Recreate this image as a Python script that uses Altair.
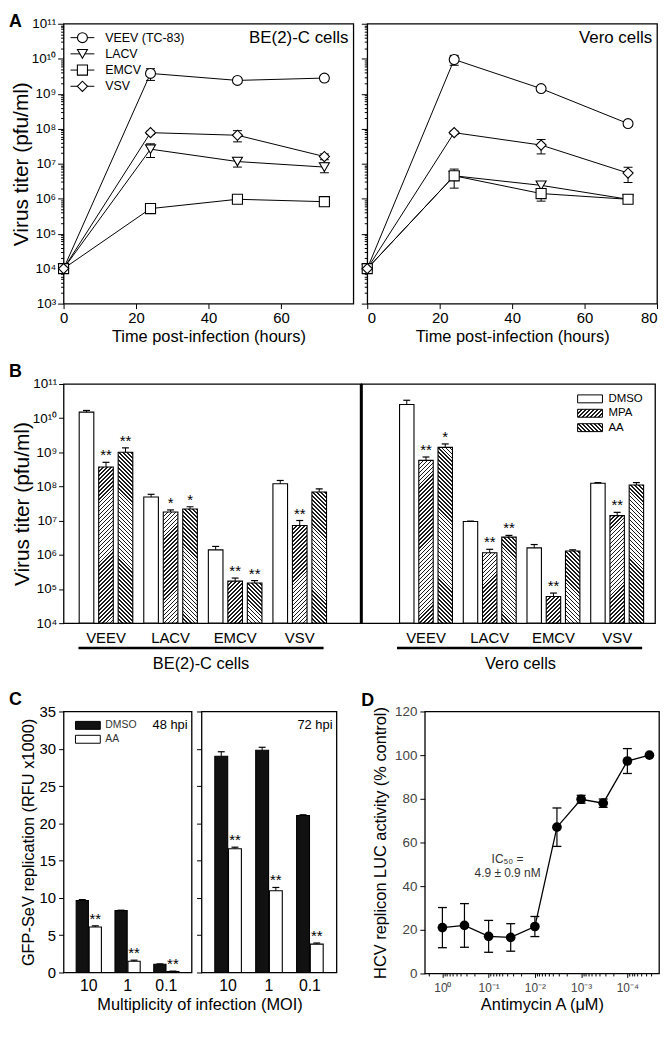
import math
import altair as alt

FONT = "Liberation Sans"

# ---------------- Panel A: virus growth curves ----------------
hours = [0, 24, 48, 72]
a_viruses = ["VEEV (TC-83)", "LACV", "EMCV", "VSV"]

be2c_veev = [1e4, 3.8e9, 2.4e9, 2.8e9]
be2c_lacv = [1e4, 2.6e7, 1.15e7, 8.0e6]
be2c_emcv = [1e4, 5.2e5, 9.6e5, 8.2e5]
be2c_vsv = [1e4, 7.7e7, 6.5e7, 1.6e7]
be2c_veev_err = [0, 1.4e9, 2.0e8, 5.0e8]
be2c_lacv_err = [0, 1.1e7, 3.5e6, 2.5e6]
be2c_emcv_err = [0, 5.0e4, 8.0e4, 2.0e5]
be2c_vsv_err = [0, 8.0e6, 2.3e7, 3.0e6]

vero_veev = [1e4, 9.5e9, 1.4e9, 1.4e8]
vero_lacv = [1e4, 4.5e6, 2.4e6, 9.6e5]
vero_emcv = [1e4, 4.5e6, 1.4e6, 9.6e5]
vero_vsv = [1e4, 7.7e7, 3.4e7, 5.4e6]
vero_veev_err = [0, 3.0e9, 2.0e8, 2.0e7]
vero_lacv_err = [0, 5.0e5, 5.0e5, 1.0e5]
vero_emcv_err = [0, 2.5e6, 5.5e5, 1.5e5]
vero_vsv_err = [0, 8.0e6, 1.5e7, 2.5e6]

# ---------------- Panel B: drug treatment, virus titers ----------------
b_viruses = ["VEEV", "LACV", "EMCV", "VSV"]
b_treats = ["DMSO", "MPA", "AA"]
be2c_dmso = [1.5e10, 4.9e7, 1.4e6, 1.2e8]
be2c_dmso_err = [1.8e9, 1.0e7, 3.6e5, 3.0e7]
be2c_mpa = [3.7e8, 1.8e7, 1.7e5, 7.2e6]
be2c_mpa_err = [1.4e8, 2.6e6, 3.9e4, 2.9e6]
be2c_aa = [1.0e9, 2.2e7, 1.5e5, 6.9e7]
be2c_aa_err = [3.5e8, 3.5e6, 2.6e4, 1.6e7]
be2c_dmso_sig = ["", "", "", ""]
be2c_mpa_sig = ["**", "*", "**", "**"]
be2c_aa_sig = ["**", "*", "**", ""]

vero_dmso = [2.5e10, 9.4e6, 1.6e6, 1.25e8]
vero_dmso_err = [8.4e9, 3.0e5, 4.0e5, 5.0e6]
vero_mpa = [5.8e8, 1.15e6, 6.0e4, 1.4e7]
vero_mpa_err = [1.5e8, 3.0e5, 1.6e4, 3.5e6]
vero_aa = [1.4e9, 3.3e6, 1.3e6, 1.1e8]
vero_aa_err = [3.6e8, 4.0e5, 1.0e5, 2.0e7]
vero_dmso_sig = ["", "", "", ""]
vero_mpa_sig = ["**", "**", "**", "**"]
vero_aa_sig = ["*", "**", "", ""]

# ---------------- Panel C: GFP-SeV replication ----------------
c_moi = ["10", "1", "0.1"]
c_treats = ["DMSO", "AA"]
c48_dmso = [9.65, 8.3, 1.1]
c48_dmso_err = [0.12, 0.05, 0.05]
c48_aa = [6.1, 1.5, 0.13]
c48_aa_err = [0.15, 0.15, 0.05]
c72_dmso = [29.0, 29.8, 21.05]
c72_dmso_err = [0.6, 0.4, 0.1]
c72_aa = [16.6, 10.95, 3.8]
c72_aa_err = [0.2, 0.45, 0.15]
c_aa_sig = ["**", "**", "**"]

# ---------------- Panel D: HCV replicon ----------------
d_conc = [1.0, 1 / 3, 0.1, 1 / 30, 0.01, 1 / 300, 1e-3, 1 / 3000, 1e-4, 1 / 30000]
d_val = [21.0, 22.0, 17.0, 16.5, 21.5, 67.0, 79.8, 78.0, 97.3, 100.0]
d_err = [9.2, 10.0, 7.3, 6.3, 4.6, 8.8, 1.8, 1.9, 5.7, 0.0]
ann_x = [0.039, 0.039]
ann_y = [52.6, 46.2]
ann_text = ["IC\u2085\u2080 =", "4.9 \u00b1 0.9 nM"]

# ---------------- helpers ----------------
SUP = ["\u2070", "\u00b9", "\u00b2", "\u00b3", "\u2074", "\u2075", "\u2076",
       "\u2077", "\u2078", "\u2079", "\u00b9\u2070", "\u00b9\u00b9"]
SUP_JS = "[" + ",".join("'%s'" % s for s in SUP) + "]"
POW_LABEL = "'10' + " + SUP_JS + "[round(log(datum.value) / LN10)]"
NEG_POW_LABEL = ("'10' + (datum.value < 0.5 ? '\u207b' : '') + " + SUP_JS
                 + "[abs(round(log(datum.value) / LN10))]")

A_DECADES = [10.0 ** n for n in range(3, 12)]
A_MINOR = [k * 10.0 ** n for n in range(3, 11) for k in range(2, 10)]
B_DECADES = [10.0 ** n for n in range(4, 12)]
D_MAJOR = [1.0, 0.1, 0.01, 0.001, 0.0001]
D_LO, D_HI = 2.07e-5, 2.4
D_MINOR = [k * 10.0 ** n for n in range(-5, 1) for k in range(2, 10)
           if D_LO <= k * 10.0 ** n <= D_HI]

ONE = alt.Data(values=[{"o": 1}])


def letter(t, dx, dy):
    return alt.TitleParams(text=t, anchor="start", frame="group", orient="top", offset=0,
                           dx=dx, dy=dy, baseline="alphabetic", fontSize=18,
                           fontWeight="bold", font=FONT, color="black")


def hatch(w, h, kind, period=4.0, line=1.5, ink="#1c1c1c"):
    """Diagonal stripe fill built as a linear gradient in the bar's own box."""
    S = w + h
    k = S / (w * w + h * h)
    a, b = k * w, k * h
    if kind == "/":
        x1, y1, x2, y2 = 0.0, 0.0, a, b
    else:
        x1, y1, x2, y2 = 0.0, 1.0, a, 1.0 - b
    stops = []
    s = 0.0
    while s < S - 1e-9:
        e1 = min(s + line, S)
        e2 = min(s + period, S)
        stops.append({"offset": round(s / S, 5), "color": ink})
        stops.append({"offset": round(e1 / S, 5), "color": ink})
        stops.append({"offset": round(e1 / S, 5), "color": "white"})
        stops.append({"offset": round(e2 / S, 5), "color": "white"})
        s += period
    return {"gradient": "linear", "x1": x1, "y1": round(y1, 5), "x2": round(x2, 5),
            "y2": round(y2, 5), "stops": stops}


# ---------------- Panel A ----------------
HA = 282
A_SHAPES = ["circle", "triangle-down", "square", "diamond"]
A_SIZES = [100, 105, 80, 140]


def panel_a(series, errs, W, first, cell_label, title=None):
    recs = []
    for name, vals, es in zip(a_viruses, series, errs):
        for t, v, e in zip(hours, vals, es):
            recs.append({"virus": name, "t": t, "v": v, "lo": v - e, "hi": v + e, "e": e})
    base = alt.Chart(alt.Data(values=recs))
    xsc = alt.Scale(domain=[0, 80], nice=False, zero=False)
    ysc = alt.Scale(type="log", domain=[1e3, 1e11], nice=False)
    xaxis = alt.Axis(values=[0, 20, 40, 60] if first else [0, 20, 40, 60, 80],
                     title="Time post-infection (hours)", labelFontSize=15, titleFontSize=16.5,
                     tickSize=5, labelPadding=2, titlePadding=3, labelFlush=not first,
                     orient="bottom")
    if first:
        yaxis = alt.Axis(values=A_DECADES, labelExpr=POW_LABEL, title="Virus titer (pfu/ml)",
                         labelFontSize=13.5, titleFontSize=21, tickSize=6, labelPadding=2,
                         titlePadding=0, orient="left")
    else:
        yaxis = alt.Axis(values=A_DECADES, labels=False, title=None, tickSize=6, orient="left")
    minor_axis = alt.Axis(values=A_MINOR, labels=False, title=None, tickSize=3, orient="left")
    shape = alt.Shape("virus:N", scale=alt.Scale(domain=a_viruses, range=A_SHAPES), legend=None)
    size = alt.Size("virus:N", scale=alt.Scale(domain=a_viruses, range=A_SIZES), legend=None)
    X = alt.X("t:Q", scale=xsc, axis=xaxis)
    Xn = alt.X("t:Q", scale=xsc, axis=None)

    lines = base.mark_line(color="black", strokeWidth=1).encode(
        x=X, y=alt.Y("v:Q", scale=ysc, axis=yaxis), detail="virus:N")
    eb = base.transform_filter("datum.e > 0")
    erule = eb.mark_rule(color="black", strokeWidth=1).encode(
        x=Xn, y=alt.Y("lo:Q", scale=ysc, axis=None), y2="hi:Q")
    cap_hi = eb.mark_tick(color="black", orient="horizontal", size=9, thickness=1, opacity=1).encode(
        x=Xn, y=alt.Y("hi:Q", scale=ysc, axis=None))
    cap_lo = eb.mark_tick(color="black", orient="horizontal", size=9, thickness=1, opacity=1).encode(
        x=Xn, y=alt.Y("lo:Q", scale=ysc, axis=None))
    pts = base.mark_point(filled=True, fill="white", stroke="black", strokeWidth=1.1, opacity=1).encode(
        x=Xn, y=alt.Y("v:Q", scale=ysc, axis=None), shape=shape, size=size)
    minor = base.mark_point(opacity=0).encode(
        x=Xn, y=alt.Y("v:Q", scale=ysc, axis=minor_axis))
    main = alt.layer(lines, erule, cap_hi, cap_lo, pts, minor).resolve_axis(
        x="independent", y="independent")

    lab = alt.Chart(alt.Data(values=[{"label": cell_label}])).mark_text(
        align="right", baseline="middle", fontSize=17, font=FONT, color="black").encode(
        x=alt.value(W - 5), y=alt.value(14), text="label:N")
    layers = [main, lab]
    if first:
        ld = alt.Data(values=[{"virus": v} for v in a_viruses])
        ly = alt.Y("virus:N", scale=alt.Scale(type="point", domain=a_viruses, range=[14, 63], padding=0),
                   axis=None)
        lrule = alt.Chart(ld).mark_rule(color="black", strokeWidth=1).encode(
            x=alt.value(7), x2=alt.value(31), y=ly)
        lpts = alt.Chart(ld).mark_point(filled=True, fill="white", stroke="black", strokeWidth=1.1,
                                        opacity=1).encode(x=alt.value(19), y=ly, shape=shape, size=size)
        ltxt = alt.Chart(ld).mark_text(align="left", baseline="middle", fontSize=12.5, font=FONT,
                                       color="black").encode(x=alt.value(42), y=ly, text="virus:N")
        layers.append(alt.layer(lrule, lpts, ltxt))
    ch = alt.layer(*layers).resolve_scale(y="independent")
    props = dict(width=W, height=HA)
    if title is not None:
        props["title"] = title
    return ch.properties(**props)


# ---------------- Panel B ----------------
HB = 241
PI_G, PO_G, PI_O = 0.17, 0.39, 0.25


def panel_b(cols, W, align, first, cell_label, title_x, uline, title=None, legend=False):
    step = W / (len(b_viruses) - PI_G + 2 * PO_G)
    wbar = step * (1 - PI_G) / (len(b_treats) - PI_O) * (1 - PI_O)
    recs = []
    for i, vir in enumerate(b_viruses):
        for tr, vals, errs, sig in cols:
            v = vals[i]
            h = (math.log10(v) - 4) / 7 * HB
            fill = "white" if tr == "DMSO" else hatch(wbar, h, "/" if tr == "MPA" else "\\")
            recs.append({"virus": vir, "treat": tr, "v": v, "hi": v + errs[i], "sig": sig[i],
                         "fill": fill})
    base = alt.Chart(alt.Data(values=recs))
    xsc = alt.Scale(type="band", domain=b_viruses, paddingInner=PI_G, paddingOuter=PO_G, align=align)
    xosc = alt.Scale(type="band", domain=b_treats, paddingInner=PI_O, paddingOuter=0)
    ysc = alt.Scale(type="log", domain=[1e4, 1e11], nice=False)
    xaxis = alt.Axis(title=cell_label, labelAngle=0, ticks=False, tickSize=0, labelFontSize=15,
                     labelPadding=7, titleFontSize=16.5, titlePadding=11, titleX=title_x,
                     orient="bottom")
    if first:
        yaxis = alt.Axis(values=B_DECADES, labelExpr=POW_LABEL, title="Virus titer (pfu/ml)",
                         labelFontSize=13.5, titleFontSize=21, tickSize=5, labelPadding=2,
                         titlePadding=0, orient="left")
    else:
        yaxis = None
    X = alt.X("virus:N", scale=xsc, axis=xaxis)
    Xn = alt.X("virus:N", scale=xsc, axis=None)
    XO = alt.XOffset("treat:N", scale=xosc)

    bars = base.mark_bar(stroke="black", strokeWidth=1.1, opacity=1).encode(
        x=X, xOffset=XO, y=alt.Y("v:Q", scale=ysc, axis=yaxis, stack=None),
        fill=alt.Fill("fill:N", scale=None))
    err = base.mark_rule(color="black", strokeWidth=1).encode(
        x=Xn, xOffset=XO, y=alt.Y("v:Q", scale=ysc, axis=None), y2="hi:Q")
    cap = base.mark_tick(color="black", size=7, thickness=1.2, opacity=1).encode(
        x=Xn, xOffset=XO, y=alt.Y("hi:Q", scale=ysc, axis=None))
    stars = base.mark_text(baseline="bottom", dy=1, fontSize=15, font=FONT, color="black").encode(
        x=Xn, xOffset=XO, y=alt.Y("hi:Q", scale=ysc, axis=None), text="sig:N")
    ul = alt.Chart(ONE).mark_rule(color="black", strokeWidth=2.5).encode(
        x=alt.value(uline[0]), x2=alt.value(uline[1]), y=alt.value(HB + 25))
    parts = [bars, err, cap, stars, ul]
    if first:
        div = alt.Chart(ONE).mark_rule(color="black", strokeWidth=3).encode(
            x=alt.value(W), y=alt.value(0), y2=alt.value(HB))
        parts.append(div)
    main = alt.layer(*parts).resolve_axis(x="independent", y="independent")
    if legend:
        lrec = [{"treat": t, "fill": "white" if t == "DMSO" else hatch(25, 8, "/" if t == "MPA" else "\\")}
                for t in b_treats]
        ld = alt.Data(values=lrec)
        ly = alt.Y("treat:N", scale=alt.Scale(type="band", domain=b_treats, range=[11, 48],
                                               paddingInner=0.45, paddingOuter=0), axis=None)
        lrect = alt.Chart(ld).mark_rect(stroke="black", strokeWidth=1, opacity=1).encode(
            x=alt.value(218), x2=alt.value(243), y=ly, fill=alt.Fill("fill:N", scale=None))
        ltxt = alt.Chart(ld).mark_text(align="left", baseline="middle", fontSize=11.5, font=FONT,
                                       color="black").encode(x=alt.value(249), y=ly, text="treat:N")
        ch = alt.layer(main, alt.layer(lrect, ltxt)).resolve_scale(y="independent")
    else:
        ch = main
    props = dict(width=W, height=HB)
    if title is not None:
        props["title"] = title
    return ch.properties(**props)


# ---------------- Panel C ----------------
HC = 263
C_FILLS = {"DMSO": "#111111", "AA": "white"}


def panel_c(dmso, dmso_err, aa, aa_err, W, first, hpi, title=None):
    recs = []
    for i, m in enumerate(c_moi):
        recs.append({"moi": m, "treat": "DMSO", "v": dmso[i], "hi": dmso[i] + dmso_err[i], "sig": "",
                     "fill": C_FILLS["DMSO"]})
        recs.append({"moi": m, "treat": "AA", "v": aa[i], "hi": aa[i] + aa_err[i], "sig": c_aa_sig[i],
                     "fill": C_FILLS["AA"]})
    base = alt.Chart(alt.Data(values=recs))
    xsc = alt.Scale(type="band", domain=c_moi, paddingInner=0.35, paddingOuter=0.325)
    xosc = alt.Scale(type="band", domain=c_treats, paddingInner=0.06, paddingOuter=0)
    ysc = alt.Scale(domain=[0, 35], nice=False)
    if first:
        xaxis = alt.Axis(title="Multiplicity of infection (MOI)", labelAngle=0, ticks=False, tickSize=0,
                         labelFontSize=16, labelPadding=5, titleFontSize=16.5, titlePadding=3,
                         titleX=137, orient="bottom")
        yaxis = alt.Axis(values=list(range(0, 36, 5)), title="GFP-SeV replication (RFU x1000)",
                         labelFontSize=15, titleFontSize=16.5, tickSize=5, labelPadding=3,
                         titlePadding=3, orient="left")
    else:
        xaxis = alt.Axis(title=None, labelAngle=0, ticks=False, tickSize=0, labelFontSize=16,
                         labelPadding=5, orient="bottom")
        yaxis = alt.Axis(values=list(range(0, 36, 5)), labels=False, title=None, tickSize=5,
                         orient="left")
    X = alt.X("moi:N", scale=xsc, axis=xaxis)
    Xn = alt.X("moi:N", scale=xsc, axis=None)
    XO = alt.XOffset("treat:N", scale=xosc)
    bars = base.mark_bar(stroke="black", strokeWidth=1.1, opacity=1).encode(
        x=X, xOffset=XO, y=alt.Y("v:Q", scale=ysc, axis=yaxis, stack=None),
        fill=alt.Fill("fill:N", scale=None))
    err = base.mark_rule(color="black", strokeWidth=1).encode(
        x=Xn, xOffset=XO, y=alt.Y("v:Q", scale=ysc, axis=None), y2="hi:Q")
    cap = base.mark_tick(color="black", size=7, thickness=1.2, opacity=1).encode(
        x=Xn, xOffset=XO, y=alt.Y("hi:Q", scale=ysc, axis=None))
    stars = base.mark_text(baseline="bottom", dy=1, fontSize=15, font=FONT, color="black").encode(
        x=Xn, xOffset=XO, y=alt.Y("hi:Q", scale=ysc, axis=None), text="sig:N")
    lab = alt.Chart(alt.Data(values=[{"label": hpi}])).mark_text(
        align="right", baseline="middle", fontSize=13, font=FONT, color="black").encode(
        x=alt.value(W - 4), y=alt.value(14), text="label:N")
    main = alt.layer(bars, err, cap, stars, lab).resolve_axis(x="independent", y="independent")
    if first:
        ld = alt.Data(values=[{"treat": t, "fill": C_FILLS[t]} for t in c_treats])
        ly = alt.Y("treat:N", scale=alt.Scale(type="band", domain=c_treats, range=[10, 32],
                                               paddingInner=0.43, paddingOuter=0), axis=None)
        lrect = alt.Chart(ld).mark_rect(stroke="black", strokeWidth=1, opacity=1).encode(
            x=alt.value(12), x2=alt.value(37), y=ly, fill=alt.Fill("fill:N", scale=None))
        ltxt = alt.Chart(ld).mark_text(align="left", baseline="middle", fontSize=10.5, font=FONT,
                                       color="#333333").encode(x=alt.value(42), y=ly, text="treat:N")
        ch = alt.layer(main, alt.layer(lrect, ltxt)).resolve_scale(y="independent")
    else:
        ch = main
    props = dict(width=W, height=HC)
    if title is not None:
        props["title"] = title
    return ch.properties(**props)


# ---------------- Panel D ----------------
HD = 264
WD = 236


def panel_d(title):
    recs = [{"c": c, "v": v, "lo": v - e, "hi": v + e, "e": e} for c, v, e in zip(d_conc, d_val, d_err)]
    base = alt.Chart(alt.Data(values=recs))
    xsc = alt.Scale(type="log", domain=[D_LO, D_HI], reverse=True, nice=False)
    ysc = alt.Scale(domain=[0, 120], nice=False)
    xaxis = alt.Axis(values=D_MAJOR, labelExpr=NEG_POW_LABEL, title="Antimycin A (\u03bcM)",
                     labelFontSize=12, labelColor="#444444", tickSize=4, labelPadding=5,
                     titleFontSize=16.5, titlePadding=3, orient="bottom", labelFlush=False)
    minor_axis = alt.Axis(values=D_MINOR, labels=False, title=None, tickSize=2.5, orient="bottom")
    yaxis = alt.Axis(values=list(range(0, 121, 20)), title="HCV replicon LUC activity (% control)",
                     labelFontSize=13.5, labelColor="#444444", titleFontSize=16.5, tickSize=5,
                     labelPadding=3, titlePadding=6, orient="left")
    Yn = alt.Y("v:Q", scale=ysc, axis=None)
    Xn = alt.X("c:Q", scale=xsc, axis=None)
    line = base.mark_line(color="black", strokeWidth=1.3).encode(
        x=alt.X("c:Q", scale=xsc, axis=xaxis), y=alt.Y("v:Q", scale=ysc, axis=yaxis))
    eb = base.transform_filter("datum.e > 0")
    err = eb.mark_rule(color="black", strokeWidth=1.2).encode(
        x=Xn, y=alt.Y("lo:Q", scale=ysc, axis=None), y2="hi:Q")
    cap_hi = eb.mark_tick(color="black", orient="horizontal", size=9, thickness=1.3, opacity=1).encode(
        x=Xn, y=alt.Y("hi:Q", scale=ysc, axis=None))
    cap_lo = eb.mark_tick(color="black", orient="horizontal", size=9, thickness=1.3, opacity=1).encode(
        x=Xn, y=alt.Y("lo:Q", scale=ysc, axis=None))
    pts = base.mark_circle(color="black", size=95, opacity=1).encode(x=Xn, y=Yn)
    minor = base.mark_point(opacity=0).encode(x=alt.X("c:Q", scale=xsc, axis=minor_axis), y=Yn)
    ann = alt.Chart(alt.Data(values=[{"x": x, "y": y, "t": t} for x, y, t in zip(ann_x, ann_y, ann_text)])
                    ).mark_text(fontSize=12, font=FONT, color="#333333", baseline="middle").encode(
        x=alt.X("x:Q", scale=xsc, axis=None), y=alt.Y("y:Q", scale=ysc, axis=None), text="t:N")
    ch = alt.layer(line, err, cap_hi, cap_lo, pts, ann, minor).resolve_axis(
        x="independent", y="independent")
    return ch.properties(width=WD, height=HD, title=title)


def spacer(w, h):
    return alt.Chart(ONE).mark_point(opacity=0).encode(x=alt.value(0), y=alt.value(0)).properties(
        width=w, height=h, view=alt.ViewBackground(stroke="transparent"))


# ---------------- assemble ----------------
a_left = panel_a([be2c_veev, be2c_lacv, be2c_emcv, be2c_vsv],
                 [be2c_veev_err, be2c_lacv_err, be2c_emcv_err, be2c_vsv_err],
                 292, True, "BE(2)-C cells", title=letter("A", -55, 28))
a_right = panel_a([vero_veev, vero_lacv, vero_emcv, vero_vsv],
                  [vero_veev_err, vero_lacv_err, vero_emcv_err, vero_vsv_err],
                  292, False, "Vero cells")
row1 = alt.hconcat(a_left, a_right, spacing=14, bounds="flush").resolve_scale(xOffset="independent")

b_left = panel_b([("DMSO", be2c_dmso, be2c_dmso_err, be2c_dmso_sig),
                  ("MPA", be2c_mpa, be2c_mpa_err, be2c_mpa_sig),
                  ("AA", be2c_aa, be2c_aa_err, be2c_aa_sig)],
                 300, 0.31, True, "BE(2)-C cells", 138, (15, 262), title=letter("B", -55, 18))
b_right = panel_b([("DMSO", vero_dmso, vero_dmso_err, vero_dmso_sig),
                   ("MPA", vero_mpa, vero_mpa_err, vero_mpa_sig),
                   ("AA", vero_aa, vero_aa_err, vero_aa_sig)],
                  296, 0.77, False, "Vero cells", 160, (36, 283), legend=True)
row2 = alt.hconcat(b_left, b_right, spacing=0, bounds="flush").resolve_scale(xOffset="independent")

c_left = panel_c(c48_dmso, c48_dmso_err, c48_aa, c48_aa_err, 129, True, "48 hpi",
                 title=letter("C", -55, 18))
c_right = panel_c(c72_dmso, c72_dmso_err, c72_aa, c72_aa_err, 136, False, "72 hpi")
d_panel = panel_d(letter("D", -64, 19))
row3 = alt.hconcat(c_left, c_right, spacer(69, HC), d_panel, spacing=10,
                   bounds="flush").resolve_scale(xOffset="independent")

chart = alt.vconcat(row1, row2, row3, spacing=16).resolve_scale(xOffset="independent").properties(
    padding=0
).configure_view(
    stroke="black", strokeWidth=1.3
).configure_axis(
    domain=False, grid=False, labelFont=FONT, titleFont=FONT, labelColor="black",
    titleColor="black", tickColor="black", tickWidth=1, titleFontWeight="normal"
).configure_text(font=FONT).configure_title(font=FONT)

chart.save("out.html", embed_options={"renderer": "svg", "actions": False})
